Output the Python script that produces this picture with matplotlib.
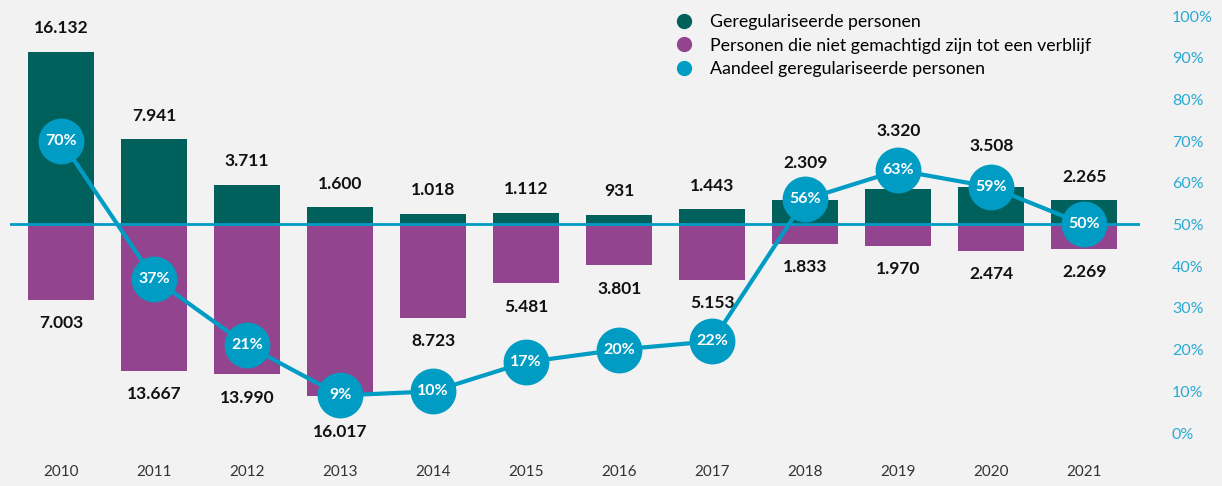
import numpy as np
import matplotlib.pyplot as plt
from matplotlib.lines import Line2D

years = ["2010", "2011", "2012", "2013", "2014", "2015",
         "2016", "2017", "2018", "2019", "2020", "2021"]
geregulariseerd = [16132, 7941, 3711, 1600, 1018, 1112, 931, 1443, 2309, 3320, 3508, 2265]
niet_gemachtigd = [7003, 13667, 13990, 16017, 8723, 5481, 3801, 5153, 1833, 1970, 2474, 2269]
aandeel = [70, 37, 21, 9, 10, 17, 20, 22, 56, 63, 59, 50]

# label offsets (points) so the numbers stay clear of the markers
up_off = [11, 11, 11, 11, 11, 11, 11, 11, 21, 36, 24, 11]
down_off = [11, 11, 11, 20, 11, 11, 11, 11, 11, 11, 11, 11]

GREEN = "#00605b"
PURPLE = "#93448e"
BLUE = "#009cc3"
TICKBLUE = "#2aaad2"
BG = "#f2f2f2"

plt.rcParams['font.family'] = ['Lato', 'DejaVu Sans']

fig = plt.figure(figsize=(12.22, 4.86), dpi=100, facecolor=BG)
ax = fig.add_axes([10 / 1222, 1 - 433 / 486, 1130 / 1222, 417 / 486])
ax.set_facecolor(BG)

x = np.arange(len(years))
up = np.array(geregulariseerd)
down = -np.array(niet_gemachtigd)

ax.bar(x, up, width=0.71, color=GREEN, zorder=2)
ax.bar(x, down, width=0.71, color=PURPLE, zorder=2)
ax.set_ylim(-19450, 19450)
ax.set_xlim(-0.55, 11.6)

fmt = lambda v: "{:,}".format(v).replace(",", ".")
for i in range(len(years)):
    ax.annotate(fmt(geregulariseerd[i]), (x[i], up[i]), xytext=(0, up_off[i]),
                textcoords="offset points", ha="center", va="bottom",
                fontsize=12.5, fontweight="bold", color="#111111")
    ax.annotate(fmt(niet_gemachtigd[i]), (x[i], down[i]), xytext=(0, -down_off[i]),
                textcoords="offset points", ha="center", va="top",
                fontsize=12.5, fontweight="bold", color="#111111")

ax.set_xticks(x)
ax.set_xticklabels(years, fontsize=11, color="#333333")
ax.tick_params(axis="x", length=0, pad=23)
ax.set_yticks([])
for s in ax.spines.values():
    s.set_visible(False)

ax2 = ax.twinx()
ax2.set_ylim(0, 100)
ax2.axhline(50, color=BLUE, lw=2, zorder=1)
ax2.plot(x, aandeel, color=BLUE, lw=3, marker="o", markersize=32,
         markerfacecolor=BLUE, markeredgecolor=BLUE, zorder=3)
for i in range(len(years)):
    ax2.text(x[i], aandeel[i], "{}%".format(aandeel[i]), ha="center", va="center",
             fontsize=11.5, fontweight="bold", color="white", zorder=4)
ax2.set_yticks(np.arange(0, 101, 10))
ax2.set_yticklabels(["{}%".format(v) for v in range(0, 101, 10)],
                    fontsize=11.5, color=TICKBLUE, ha="left")
ax2.tick_params(axis="y", length=0, pad=23)
for s in ax2.spines.values():
    s.set_visible(False)

handles = [Line2D([], [], ls="none", marker="o", markersize=10, color=c)
           for c in (GREEN, PURPLE, BLUE)]
labels = ["Geregulariseerde personen",
          "Personen die niet gemachtigd zijn tot een verblijf",
          "Aandeel geregulariseerde personen"]
fig.legend(handles, labels, loc="upper left", bbox_to_anchor=(659 / 1222, 1.0),
           frameon=False, fontsize=12.8, handletextpad=0.85, labelspacing=0.42,
           handlelength=1.2, borderpad=0.3)

fig.savefig("out.png", dpi=100, facecolor=BG)
